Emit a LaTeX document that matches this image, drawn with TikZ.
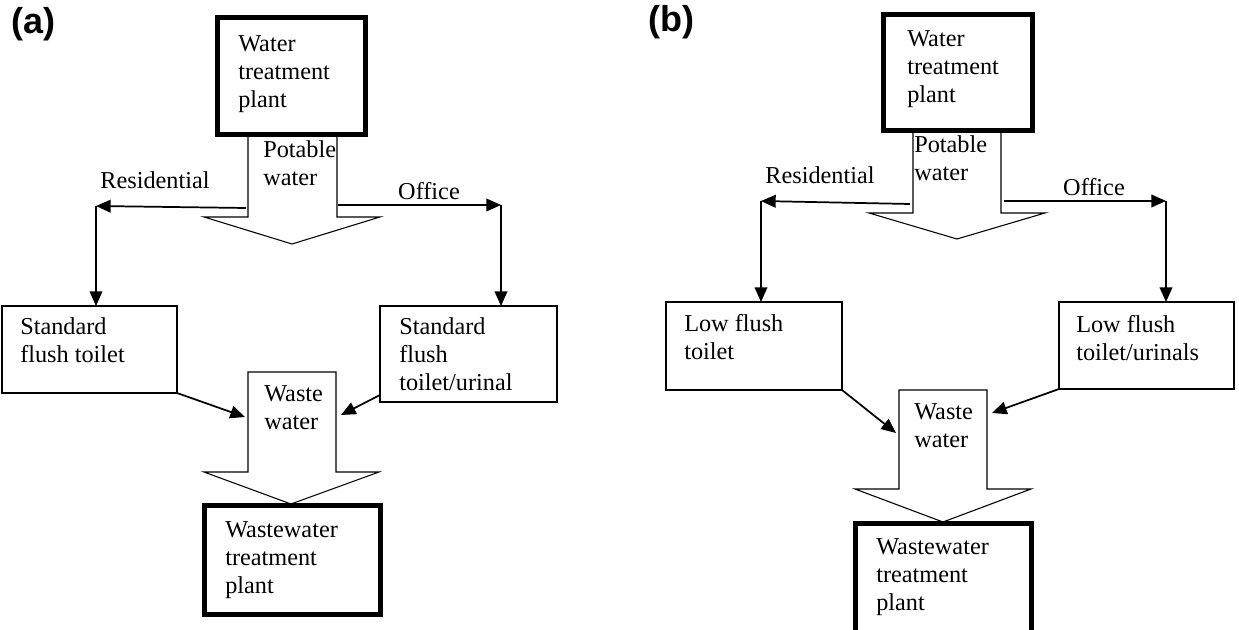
\documentclass[tikz,border=0pt]{standalone}
\usepackage{fontspec}
\setmainfont{Liberation Serif}
\newfontfamily\labfont{Liberation Sans}
\usetikzlibrary{arrows.meta,fit}
\newcommand\mylines[1]{\vtop{\baselineskip=20.8pt\halign{##\hfil\cr#1\crcr}}}
\begin{document}
\begin{tikzpicture}[x=0.75pt,y=-0.75pt,
  tbox/.style={draw, line width=0.9pt, inner sep=0pt, outer sep=0pt},
  thbox/.style={draw, line width=3.75pt, inner sep=0pt, outer sep=0pt},
  txt/.style={inner sep=0pt, anchor=base west, font=\fontsize{18.2}{20.8}\selectfont},
  lbl/.style={inner sep=0pt, anchor=base, font=\fontsize{18.2}{20.8}\selectfont},
  blk/.style={draw, line width=0.8pt, line join=miter},
  con/.style={line width=1.3pt, -{Triangle[length=11pt,width=9.5pt]}},
  panel/.style={inner sep=0pt, anchor=base west, font=\labfont\bfseries\fontsize{27}{32}\selectfont}]
\useasboundingbox (0,0) rectangle (1239,630);
\clip (0,0) rectangle (1239,630);

% ---------------- panel (a) ----------------
\node[panel] (pa) at (11,34) {(a)};
\node[thbox, fit={(217.5,17.5)(365.5,134.5)}] (wtpa) {};
\node[txt] (wtpat) at (238,52) {\mylines{Water\cr treatment\cr plant}};

\draw[blk] (248,137) -- (248,217) -- (204,217) -- (292,244) -- (380,217) -- (337,217) -- (337,137);
\node[txt] (pota) at (263,158) {\mylines{Potable\cr water}};

\node[tbox, fit={(2,306)(177,393)}] (lsa) {};
\node[txt] (lsat) at (20,335) {\mylines{Standard\cr flush toilet}};
\node[tbox, fit={(380,306)(557,402)}] (rsa) {};
\node[txt] (rsat) at (399,335) {\mylines{Standard\cr flush\cr toilet/urinal}};

\coordinate (ra0) at (246,208);
\coordinate (ra1) at (96,206);
\draw[con] (ra0) -- (ra1);
\draw[con] (ra1) -- (ra1 |- lsa.north);
\node[lbl] (resa) at (155,189) {Residential};

\coordinate (oa0) at (338,205);
\coordinate (oa1) at (501,205);
\draw[con] (oa0) -- (oa1);
\draw[con] (oa1) -- (oa1 |- rsa.north);
\node[lbl] (offa) at (429,200) {Office};

\draw[blk] (248,372) -- (336,372) -- (336,472) -- (379,472) -- (291,504) -- (204,472) -- (248,472) -- cycle;
\node[txt] (wasa) at (264,402) {\mylines{Waste\cr water}};
\coordinate (wla) at (245,417);
\coordinate (wra) at (341,415);
\coordinate (rsaout) at (380,395);
\draw[con] (lsa.south east) -- (wla);
\draw[con] (rsa.west |- rsaout) -- (wra);

\node[thbox, fit={(204.5,505.5)(380.5,614.5)}] (wwa) {};
\node[txt] (wwat) at (225,538) {\mylines{Wastewater\cr treatment\cr plant}};

% ---------------- panel (b) ----------------
\node[panel] (pb) at (648,32) {(b)};
\node[thbox, fit={(883.5,14.5)(1032.5,130.5)}] (wtpb) {};
\node[txt] (wtpbt) at (907,47) {\mylines{Water\cr treatment\cr plant}};

\draw[blk] (913,133) -- (913,213) -- (869,213) -- (957,239) -- (1045,213) -- (1001,213) -- (1001,133);
\node[txt] (potb) at (914,153) {\mylines{Potable\cr water}};

\node[tbox, fit={(666,302)(842,390)}] (lsb) {};
\node[txt] (lsbt) at (684,332) {\mylines{Low flush\cr toilet}};
\node[tbox, fit={(1059,302)(1234,389)}] (rsb) {};
\node[txt] (rsbt) at (1076,333) {\mylines{Low flush\cr toilet/urinals}};

\coordinate (rb0) at (910,204);
\coordinate (rb1) at (761,201);
\draw[con] (rb0) -- (rb1);
\draw[con] (rb1) -- (rb1 |- lsb.north);
\node[lbl] (resb) at (820,184) {Residential};

\coordinate (ob0) at (1004,201);
\coordinate (ob1) at (1166,201);
\draw[con] (ob0) -- (ob1);
\draw[con] (ob1) -- (ob1 |- rsb.north);
\node[lbl] (offb) at (1094,196) {Office};

\draw[blk] (899,390) -- (987,390) -- (987,489) -- (1031,489) -- (943,522) -- (855,489) -- (899,489) -- cycle;
\node[txt] (wasb) at (914,420) {\mylines{Waste\cr water}};
\coordinate (wlb) at (896,433);
\coordinate (wrb) at (992,413);
\draw[con] (lsb.south east) -- (wlb);
\draw[con] (rsb.south west) -- (wrb);

\node[thbox, fit={(855.5,523.5)(1031.5,660)}] (wwb) {};
\node[txt] (wwbt) at (876,555) {\mylines{Wastewater\cr treatment\cr plant}};
\end{tikzpicture}
\end{document}
